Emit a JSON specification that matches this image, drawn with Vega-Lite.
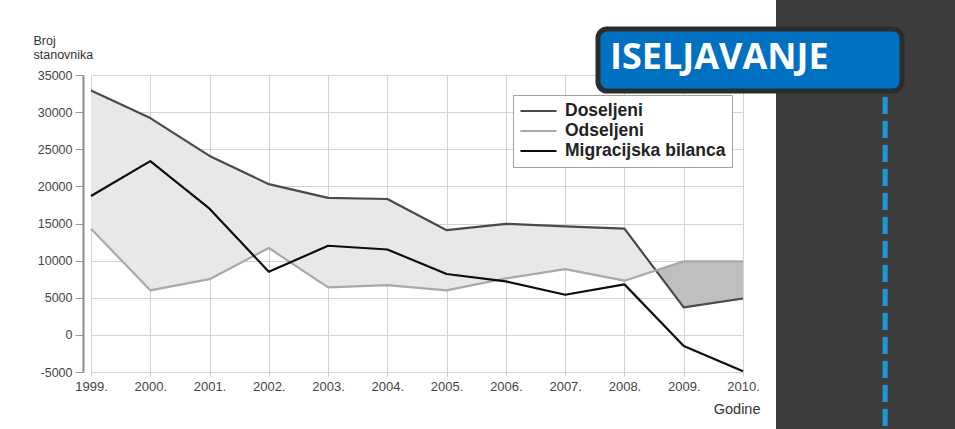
{
  "$schema": "https://vega.github.io/schema/vega-lite/v6.json",
  "background": "white",
  "padding": {"left": 33, "top": 0, "right": 0, "bottom": 0},
  "config": {"view": {"stroke": null}, "font": "Liberation Sans", "axis": {"labelOverlap": false}},
  "datasets": {
    "migracije": [
      {"godina": 1999, "Doseljeni": 32900, "Odseljeni": 14300, "Migracijska bilanca": 18700},
      {"godina": 2000, "Doseljeni": 29200, "Odseljeni": 6000, "Migracijska bilanca": 23400},
      {"godina": 2001, "Doseljeni": 24100, "Odseljeni": 7500, "Migracijska bilanca": 17000},
      {"godina": 2002, "Doseljeni": 20300, "Odseljeni": 11700, "Migracijska bilanca": 8500},
      {"godina": 2003, "Doseljeni": 18450, "Odseljeni": 6400, "Migracijska bilanca": 12000},
      {"godina": 2004, "Doseljeni": 18300, "Odseljeni": 6700, "Migracijska bilanca": 11500},
      {"godina": 2005, "Doseljeni": 14100, "Odseljeni": 6000, "Migracijska bilanca": 8200},
      {"godina": 2006, "Doseljeni": 14950, "Odseljeni": 7600, "Migracijska bilanca": 7200},
      {"godina": 2007, "Doseljeni": 14600, "Odseljeni": 8850, "Migracijska bilanca": 5400},
      {"godina": 2008, "Doseljeni": 14300, "Odseljeni": 7300, "Migracijska bilanca": 6800},
      {"godina": 2009, "Doseljeni": 3700, "Odseljeni": 9900, "Migracijska bilanca": -1500},
      {"godina": 2010, "Doseljeni": 4900, "Odseljeni": 9900, "Migracijska bilanca": -4900}
    ]
  },
  "bounds": "flush",
  "center": true,
  "spacing": 33,
  "resolve": {
    "scale": {"x": "independent", "y": "independent", "color": "independent", "strokeWidth": "independent"},
    "legend": {"color": "independent", "strokeWidth": "independent"}
  },
  "hconcat": [
    {
      "width": 652,
      "height": 297,
      "data": {"name": "migracije"},
      "layer": [
        {
          "mark": {
            "type": "area",
            "fill": {
              "gradient": "linear",
              "x1": 0, "y1": 0, "x2": 1, "y2": 0,
              "stops": [
                {"offset": 0, "color": "#e8e8e8"},
                {"offset": 0.8664, "color": "#e8e8e8"},
                {"offset": 0.8664, "color": "#bfbfbf"},
                {"offset": 1, "color": "#bfbfbf"}
              ]
            },
            "opacity": 1
          },
          "encoding": {
            "x": {
              "field": "godina",
              "type": "quantitative",
              "scale": {"domain": [1999, 2010], "nice": false, "zero": false},
              "axis": {
                "values": [1999, 2000, 2001, 2002, 2003, 2004, 2005, 2006, 2007, 2008, 2009, 2010],
                "labelExpr": "datum.value + '.'",
                "labelFlush": false,
                "labelOverlap": false,
                "domain": false,
                "tickSize": 4,
                "tickColor": "#c8c8c8",
                "labelFontSize": 13,
                "labelColor": "#444444",
                "labelPadding": 4,
                "gridColor": "#d4d4d4",
                "title": "Godine",
                "titleAnchor": "end",
                "titleAlign": "right",
                "titleX": 669,
                "titleY": 41,
                "titleBaseline": "alphabetic",
                "titleFontSize": 14.5,
                "titleFontWeight": "normal",
                "titleColor": "#333333"
              }
            },
            "y": {
              "field": "Doseljeni",
              "type": "quantitative",
              "scale": {"domain": [-5000, 35000], "nice": false, "zero": false},
              "axis": {
                "values": [-5000, 0, 5000, 10000, 15000, 20000, 25000, 30000, 35000],
                "labelExpr": "toString(datum.value)",
                "labelOverlap": false,
                "labelFlush": false,
                "offset": 8,
                "tickSize": 8,
                "tickColor": "#9a9a9a",
                "domainColor": "#8a8a8a",
                "domainWidth": 2,
                "labelFontSize": 12.5,
                "labelColor": "#444444",
                "labelPadding": 3,
                "gridColor": "#d4d4d4",
                "title": ["Broj", "stanovnika"],
                "titleAngle": 0,
                "titleAlign": "left",
                "titleBaseline": "top",
                "titleX": -50,
                "titleY": -41,
                "titleFontSize": 12.5,
                "titleFontWeight": "normal",
                "titleColor": "#333333",
                "titleLineHeight": 14.5
              }
            },
            "y2": {"field": "Odseljeni"}
          }
        },
        {
          "transform": [
            {"fold": ["Doseljeni", "Odseljeni", "Migracijska bilanca"], "as": ["serija", "vrijednost"]}
          ],
          "mark": {"type": "line", "strokeJoin": "round"},
          "encoding": {
            "x": {"field": "godina", "type": "quantitative"},
            "y": {
              "field": "vrijednost",
              "type": "quantitative",
              "axis": {
                "values": [-5000, 0, 5000, 10000, 15000, 20000, 25000, 30000, 35000],
                "labelExpr": "toString(datum.value)",
                "labelOverlap": false,
                "labelFlush": false,
                "offset": 8,
                "tickSize": 8,
                "tickColor": "#9a9a9a",
                "domainColor": "#8a8a8a",
                "domainWidth": 2,
                "labelFontSize": 12.5,
                "labelColor": "#444444",
                "labelPadding": 3,
                "gridColor": "#d4d4d4",
                "title": ["Broj", "stanovnika"],
                "titleAngle": 0,
                "titleAlign": "left",
                "titleBaseline": "top",
                "titleX": -50,
                "titleY": -41,
                "titleFontSize": 12.5,
                "titleFontWeight": "normal",
                "titleColor": "#333333",
                "titleLineHeight": 14.5
              }
            },
            "color": {
              "field": "serija",
              "type": "nominal",
              "scale": {
                "domain": ["Doseljeni", "Odseljeni", "Migracijska bilanca"],
                "range": ["#4a4a4a", "#a9a9a9", "#0d0d0d"]
              },
              "legend": {
                "title": null,
                "orient": "none",
                "legendX": 422,
                "legendY": 20,
                "fillColor": "white",
                "strokeColor": "#a0a0a0",
                "padding": 6,
                "symbolType": "stroke",
                "symbolSize": 1296,
                "clipHeight": 20,
                "rowPadding": 0,
                "labelFont": "Liberation Sans",
                "labelFontSize": 17.5,
                "labelFontWeight": "bold",
                "labelColor": "#222222",
                "labelOffset": 7,
                "labelLimit": 300
              }
            },
            "strokeWidth": {
              "field": "serija",
              "type": "nominal",
              "scale": {
                "domain": ["Doseljeni", "Odseljeni", "Migracijska bilanca"],
                "range": [2.2, 2.2, 3.3]
              },
              "legend": {
                "title": null,
                "orient": "none",
                "legendX": 422,
                "legendY": 20,
                "fillColor": "white",
                "strokeColor": "#a0a0a0",
                "padding": 6,
                "symbolType": "stroke",
                "symbolSize": 1296,
                "clipHeight": 20,
                "rowPadding": 0,
                "labelFont": "Liberation Sans",
                "labelFontSize": 17.5,
                "labelFontWeight": "bold",
                "labelColor": "#222222",
                "labelOffset": 7,
                "labelLimit": 300
              }
            }
          }
        }
      ]
    },
    {
      "width": 179,
      "height": 447,
      "view": {"fill": "#3d3d3d", "stroke": null},
      "data": {"values": [{}]},
      "mark": {"type": "rule", "strokeDash": [17, 7], "strokeWidth": 5},
      "encoding": {
        "x": {"datum": 0.61, "type": "quantitative", "scale": {"domain": [0, 1]}, "axis": null},
        "y": {"datum": 0.783, "type": "quantitative", "scale": {"domain": [0, 1]}, "axis": null},
        "y2": {"datum": 0},
        "color": {
          "datum": "ISELJAVANJE",
          "type": "nominal",
          "scale": {"range": ["#1a9bd3"]},
          "legend": {
            "title": "ISELJAVANJE",
            "orient": "none",
            "legendX": -178,
            "legendY": 29,
            "fillColor": "#0070c0",
            "strokeColor": "#2c2c2c",
            "cornerRadius": 9,
            "padding": 12,
            "titleFont": "Open Sans",
            "titleFontSize": 36,
            "titleFontWeight": "bold",
            "titleColor": "#ffffff",
            "titlePadding": 0,
            "titleLimit": 500,
            "labelExpr": "''",
            "labelFontSize": 1,
            "symbolSize": 1,
            "symbolOpacity": 0,
            "labelOffset": 277,
            "encode": {"legend": {"update": {"strokeWidth": {"value": 5}}}}
          }
        }
      }
    }
  ]
}
